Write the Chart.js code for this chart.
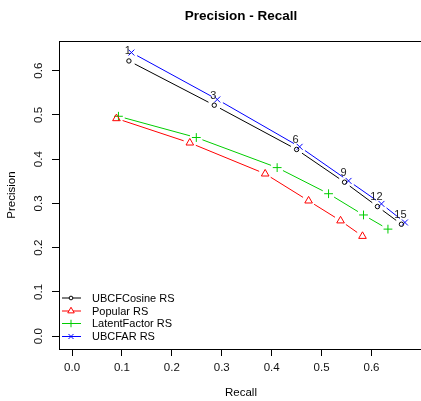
<!DOCTYPE html>
<html>
<head>
<meta charset="utf-8">
<script src="https://cdn.jsdelivr.net/npm/chart.js@4.4.0/dist/chart.umd.min.js"></script>
<style>
html,body{margin:0;padding:0;background:#fff;}
#wrap{width:421px;height:401px;}
</style>
</head>
<body>
<div id="wrap"><canvas id="c" width="421" height="401"></canvas></div>
<script>
// ---- data ----
const topNLabels = ["1", "3", "6", "9", "12", "15"];
const seriesNames = ["UBCFCosine RS", "Popular RS", "LatentFactor RS", "UBCFAR RS"];
const cosineRecall    = [0.114, 0.285, 0.450, 0.546, 0.612, 0.660];
const cosinePrecision = [0.622, 0.522, 0.422, 0.348, 0.293, 0.253];
const popularRecall    = [0.089, 0.236, 0.387, 0.474, 0.538, 0.582];
const popularPrecision = [0.492, 0.437, 0.367, 0.306, 0.261, 0.226];
const latentRecall    = [0.093, 0.249, 0.411, 0.514, 0.584, 0.633];
const latentPrecision = [0.497, 0.449, 0.381, 0.322, 0.274, 0.242];
const ubcfarRecall    = [0.119, 0.291, 0.456, 0.554, 0.620, 0.667];
const ubcfarPrecision = [0.641, 0.535, 0.428, 0.351, 0.299, 0.257];
const xTicks = [0.0, 0.1, 0.2, 0.3, 0.4, 0.5, 0.6];
const yTicks = [0.0, 0.1, 0.2, 0.3, 0.4, 0.5, 0.6];

const colors = ["#000000", "#FF0000", "#00CD00", "#0000FF"];
const styles = ["circle", "triangle", "cross", "crossRot"];
const radii = [2.2, 4.4, 4.4, 4.2];

function pts(xs, ys){ return xs.map((x,i)=>({x:x, y:ys[i]})); }
const allData = [
  pts(cosineRecall, cosinePrecision),
  pts(popularRecall, popularPrecision),
  pts(latentRecall, latentPrecision),
  pts(ubcfarRecall, ubcfarPrecision)
];

const FONT = "'Liberation Sans', Arial, sans-serif";

// R type="b" style lines: segments with gaps around the points
const gapLines = {
  id: 'gapLines',
  beforeDatasetsDraw(chart){
    const ctx = chart.ctx;
    const gap = 6.5;
    chart.data.datasets.forEach((ds, di) => {
      const meta = chart.getDatasetMeta(di);
      ctx.save();
      ctx.strokeStyle = ds.borderColor;
      ctx.lineWidth = 1;
      for (let i = 0; i < meta.data.length - 1; i++) {
        const a = meta.data[i], b = meta.data[i+1];
        const dx = b.x - a.x, dy = b.y - a.y;
        const d = Math.hypot(dx, dy);
        if (d <= 2*gap) continue;
        const ux = dx/d, uy = dy/d;
        ctx.beginPath();
        ctx.moveTo(a.x + ux*gap, a.y + uy*gap);
        ctx.lineTo(b.x - ux*gap, b.y - uy*gap);
        ctx.stroke();
      }
      ctx.restore();
    });
  }
};

const decor = {
  id: 'decor',
  afterDraw(chart){
    const ctx = chart.ctx;
    const a = chart.chartArea;
    ctx.save();
    // plot box
    ctx.strokeStyle = "#000";
    ctx.lineWidth = 1;
    ctx.strokeRect(59.5, a.top + 0.5, 420 - 59.5 + 10, a.bottom - a.top);
    // title
    ctx.fillStyle = "#000";
    ctx.textAlign = "center";
    ctx.textBaseline = "middle";
    ctx.font = "bold 13.5px " + FONT;
    ctx.fillText("Precision - Recall", 241, 16);
    // axis titles
    ctx.font = "11.5px " + FONT;
    ctx.fillText("Recall", 241, 393);
    ctx.save();
    ctx.translate(12, 195);
    ctx.rotate(-Math.PI/2);
    ctx.fillText("Precision", 0, 0);
    ctx.restore();
    // topN labels on first series
    const meta0 = chart.getDatasetMeta(0);
    ctx.font = "11px " + FONT;
    ctx.fillStyle = "#222";
    meta0.data.forEach((p, i) => {
      ctx.fillText(topNLabels[i], p.x - 1, p.y - 9.5);
    });
    // legend
    const rows = [298, 311, 323.5, 336.5];
    ctx.textAlign = "left";
    seriesNames.forEach((name, i) => {
      const y = rows[i];
      ctx.strokeStyle = colors[i];
      ctx.lineWidth = 1;
      ctx.beginPath();
      ctx.moveTo(62, y); ctx.lineTo(81, y);
      ctx.stroke();
      ctx.fillStyle = "#ffffff";
      Chart.helpers.drawPoint(ctx, {pointStyle: styles[i], radius: radii[i] * 0.85, borderWidth: 1, rotation: 0}, 71, y);
      ctx.fillStyle = "#000";
      ctx.font = "11px " + FONT;
      ctx.fillText(name, 92, y + 0.5);
    });
    ctx.restore();
  }
};

const datasets = allData.map((d, i) => ({
  label: seriesNames[i],
  data: d,
  showLine: false,
  borderColor: colors[i],
  backgroundColor: "rgba(0,0,0,0)",
  pointStyle: styles[i],
  pointRadius: radii[i],
  pointBorderColor: colors[i],
  pointBackgroundColor: "rgba(0,0,0,0)",
  pointBorderWidth: 1,
  pointHoverRadius: radii[i]
}));

new Chart(document.getElementById('c'), {
  type: 'scatter',
  data: { datasets: datasets },
  options: {
    responsive: false,
    animation: false,
    events: [],
    layout: { padding: { top: 41, right: 0, left: 0, bottom: 0 } },
    plugins: { legend: { display: false }, title: { display: false }, tooltip: { enabled: false } },
    scales: {
      x: {
        type: 'linear',
        min: -0.0241, max: 0.6884,
        afterBuildTicks: (s) => { s.ticks = xTicks.map(v => ({value: v})); },
        afterFit: (s) => { s.height = 52; },
        grid: { drawOnChartArea: false, drawTicks: true, tickLength: 7, color: "#000", lineWidth: 1 },
        border: { display: false },
        ticks: { color: "#111", font: { family: FONT, size: 11.5 }, padding: 5, maxRotation: 0, minRotation: 0,
                 callback: (v) => Number(v).toFixed(1) }
      },
      y: {
        type: 'linear',
        min: -0.0289, max: 0.6671,
        afterBuildTicks: (s) => { s.ticks = yTicks.map(v => ({value: v})); },
        afterFit: (s) => { s.width = 60; },
        grid: { drawOnChartArea: false, drawTicks: true, tickLength: 8, color: "#000", lineWidth: 1 },
        border: { display: false },
        ticks: { color: "#111", font: { family: FONT, size: 11.5 }, padding: 5, minRotation: 90, maxRotation: 90,
                 crossAlign: 'center', callback: (v) => Number(v).toFixed(1) }
      }
    }
  },
  plugins: [gapLines, decor]
});
</script>
</body>
</html>
